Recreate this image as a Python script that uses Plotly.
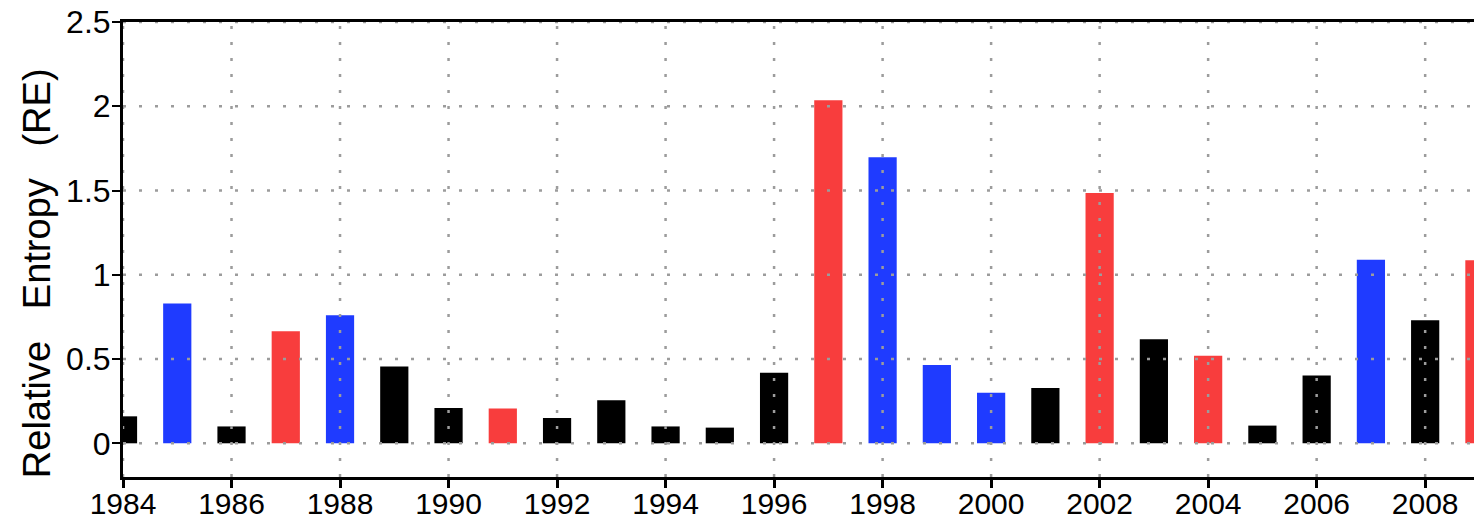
import plotly.graph_objects as go

# Relative entropy per year, coloured by ENSO phase
years = list(range(1984, 2010))
relative_entropy = [
    0.16, 0.83, 0.10, 0.665, 0.76, 0.455, 0.21, 0.207, 0.15, 0.256,
    0.10, 0.093, 0.418, 2.035, 1.697, 0.465, 0.30, 0.328, 1.485, 0.617,
    0.52, 0.105, 0.403, 1.089, 0.73, 1.086,
]
phase = [
    "neutral", "nina", "neutral", "nino", "nina", "neutral", "neutral", "nino", "neutral", "neutral",
    "neutral", "neutral", "neutral", "nino", "nina", "nina", "nina", "neutral", "nino", "neutral",
    "nino", "neutral", "neutral", "nina", "neutral", "nino",
]
phase_colors = {"nino": "#F83D3D", "nina": "#1F3BFF", "neutral": "#000000"}

x_ticks = list(range(1984, 2010, 2))
y_ticks = [0, 0.5, 1, 1.5, 2, 2.5]
y_labels = ["0", "0.5", "1", "1.5", "2", "2.5"]
x_range = [1984, 2008.9]
y_range = [-0.2, 2.5]
y_title = "Relative\u00a0\u00a0\u00a0Entropy\u00a0\u00a0\u00a0(RE)"

fig = go.Figure(
    go.Bar(
        x=years,
        y=relative_entropy,
        width=0.52,
        marker=dict(color=[phase_colors[p] for p in phase], line=dict(width=0)),
        showlegend=False,
    )
)

# dotted grid drawn over the bars
grid_style = dict(color="#9C9C9C", width=2.5, dash="3px,13px")
shapes = []
for yv in y_ticks:
    shapes.append(dict(type="line", xref="paper", yref="y", x0=0, x1=1, y0=yv, y1=yv,
                       line=grid_style, layer="above"))
for xv in x_ticks:
    shapes.append(dict(type="line", xref="x", yref="paper", x0=xv, x1=xv, y0=0, y1=1,
                       line=grid_style, layer="above"))

font_family = "Liberation Sans, Arial, sans-serif"

fig.update_layout(
    width=1474,
    height=519,
    margin=dict(l=123, r=0, t=22, b=42),
    plot_bgcolor="white",
    paper_bgcolor="white",
    shapes=shapes,
    font=dict(family=font_family, color="black"),
    annotations=[
        dict(
            text=y_title,
            xref="paper", yref="paper",
            x=-0.064, y=0.447,
            xanchor="center", yanchor="middle",
            textangle=-90,
            showarrow=False,
            font=dict(size=38, color="black"),
        )
    ],
    xaxis=dict(
        range=x_range,
        tickvals=x_ticks,
        ticktext=[str(v) for v in x_ticks],
        tickfont=dict(size=30),
        ticks="outside",
        ticklen=8,
        tickwidth=3,
        tickcolor="black",
        ticklabelstandoff=-10,
        showgrid=False,
        zeroline=False,
        showline=True,
        linecolor="black",
        linewidth=3,
        mirror=True,
        automargin=False,
    ),
    yaxis=dict(
        range=y_range,
        tickvals=y_ticks,
        ticktext=y_labels,
        tickfont=dict(size=32),
        ticks="outside",
        ticklen=8,
        tickwidth=2,
        tickcolor="black",
        ticklabelstandoff=-5,
        showgrid=False,
        zeroline=False,
        showline=True,
        linecolor="black",
        linewidth=3,
        mirror=False,
        automargin=False,
    ),
)

fig.write_html("out.html")
